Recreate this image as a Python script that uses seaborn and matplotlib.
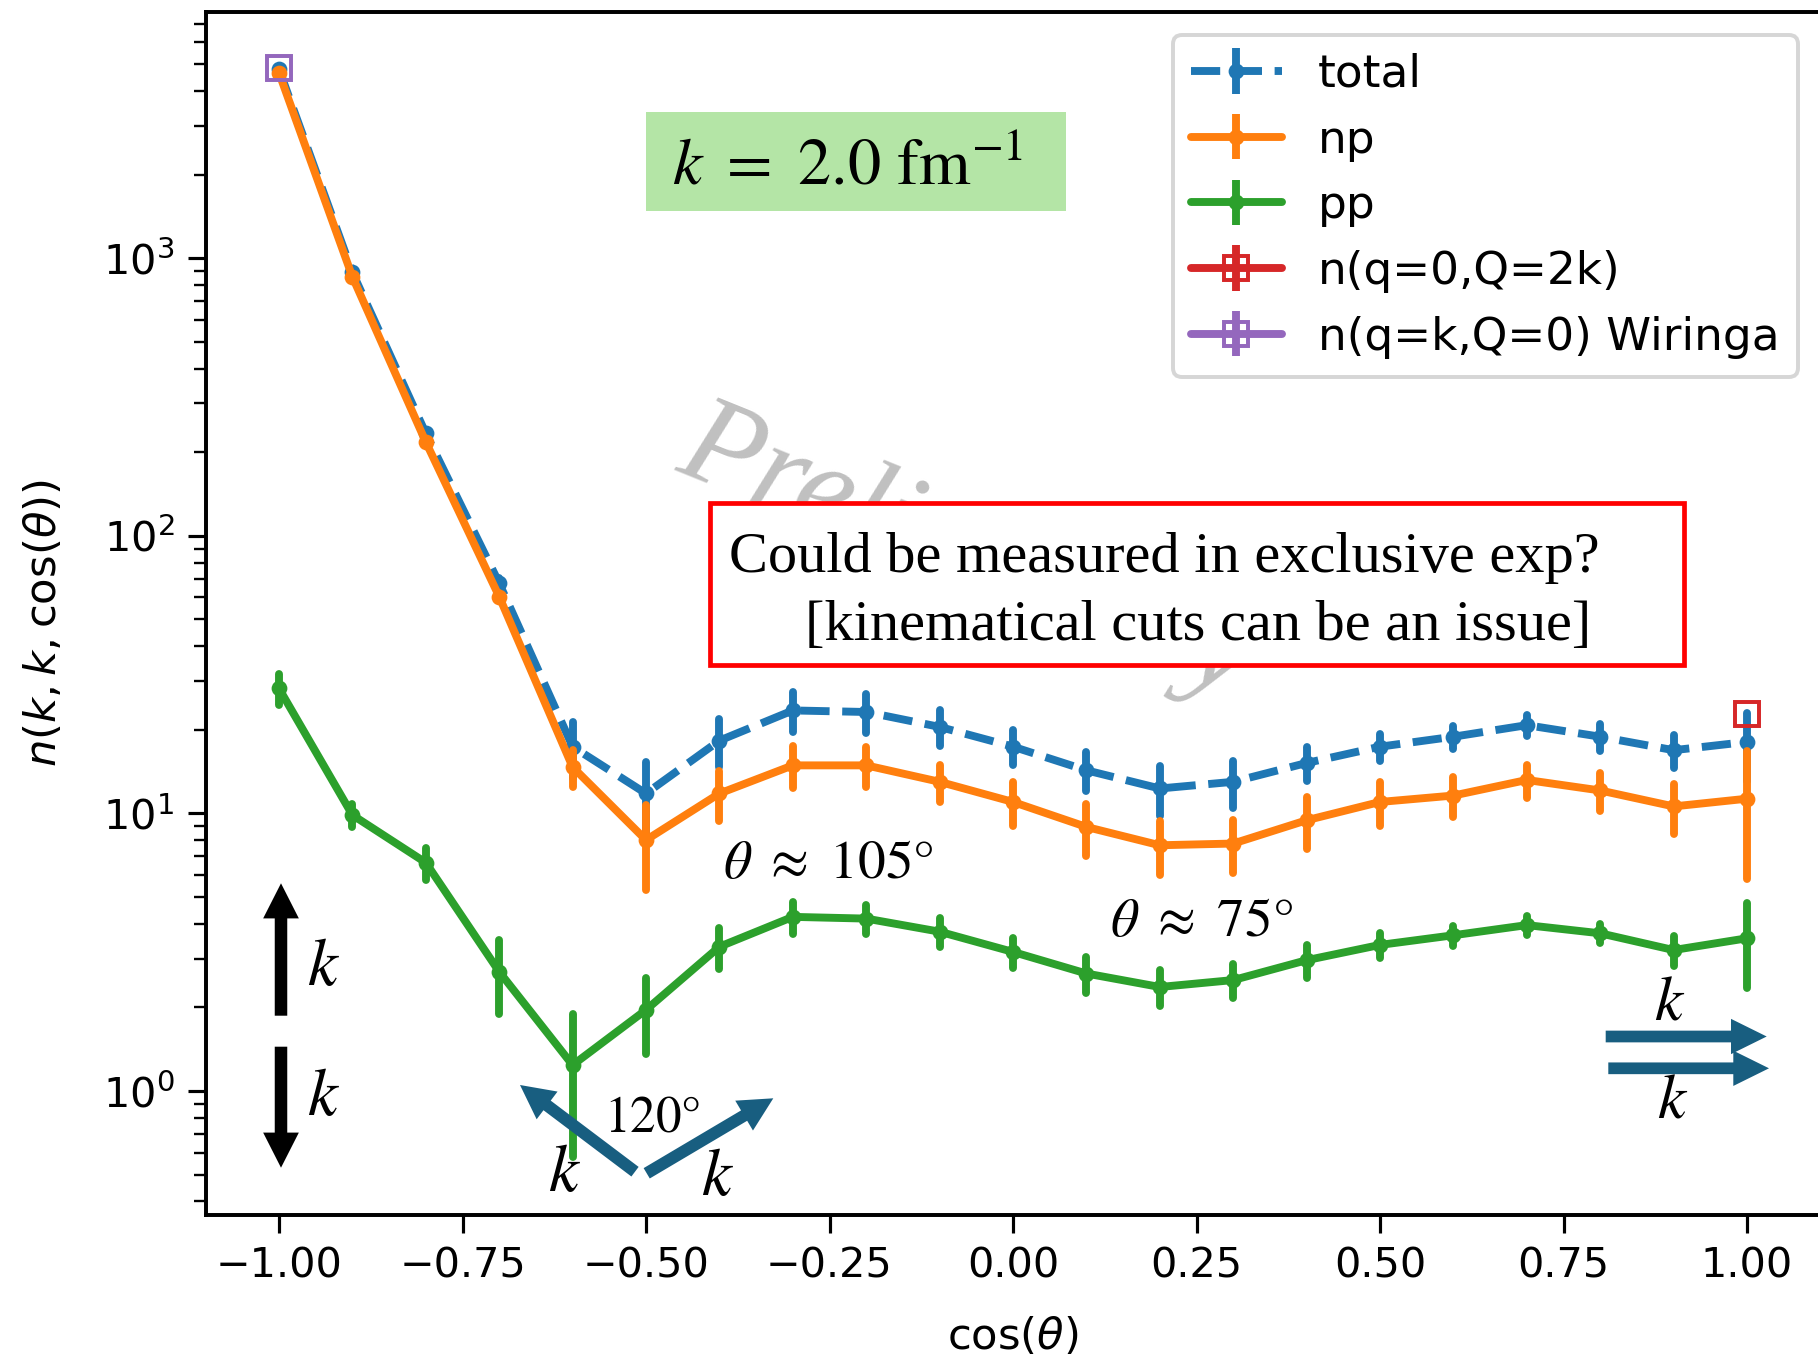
import numpy as np
import pandas as pd
import matplotlib
matplotlib.use("Agg")
import matplotlib.pyplot as plt
import seaborn as sns
from matplotlib.patches import Rectangle, FancyArrowPatch, ArrowStyle
from matplotlib.legend_handler import HandlerTuple
from matplotlib.ticker import FixedLocator, FuncFormatter, LogLocator

# ---------------- data ----------------
cos_theta = [-1.0, -0.9, -0.8, -0.7, -0.6, -0.5, -0.4, -0.3, -0.2, -0.1, 0.0,
             0.1, 0.2, 0.3, 0.4, 0.5, 0.6, 0.7, 0.8, 0.9, 1.0]

total = [4800, 890, 234, 67.5, 17.4, 11.8, 18.3, 23.5, 23.2, 20.5, 17.4,
         14.3, 12.3, 13.0, 15.2, 17.4, 18.9, 20.8, 18.9, 16.9, 18.1]
total_err = [60, 15, 6, 3, 4, 3.5, 3.6, 3.8, 3.7, 3.0, 2.5,
             2.3, 2.5, 2.5, 2.1, 1.9, 1.8, 1.8, 2.1, 2.3, 5.0]

np_vals = [4660, 858, 218, 60.4, 14.7, 8.02, 11.8, 14.9, 14.9, 13.0, 11.0,
           8.94, 7.68, 7.79, 9.45, 11.0, 11.6, 13.2, 12.1, 10.6, 11.3]
np_err = [50, 12, 5, 2, 2.2, 2.7, 2.4, 2.6, 2.4, 2.0, 2.0,
          1.9, 1.7, 1.7, 2.0, 2.0, 1.9, 1.8, 1.9, 2.2, 5.5]

pp_vals = [28.2, 9.87, 6.65, 2.69, 1.24, 1.96, 3.31, 4.24, 4.18, 3.75, 3.17,
           2.65, 2.37, 2.51, 2.96, 3.36, 3.64, 3.96, 3.70, 3.22, 3.55]
pp_err = [3.6, 0.95, 0.88, 0.8, 0.66, 0.6, 0.55, 0.55, 0.5, 0.45, 0.4,
          0.4, 0.35, 0.35, 0.4, 0.35, 0.3, 0.3, 0.3, 0.4, 1.2]

q0_x = [1.0]
q0_vals = [22.8]
q0_err = [0.0]

wir_x = [-1.0]
wir_vals = [4840]
wir_err = [0.0]

labels = ["total", "np", "pp", "n(q=0,Q=2k)", "n(q=k,Q=0) Wiringa"]
x_ticks = [-1.0, -0.75, -0.5, -0.25, 0.0, 0.25, 0.5, 0.75, 1.0]

# ---------------- figure ----------------
W, H = 1818, 1360
DPI = 284
sns.set_style("ticks", {"axes.edgecolor": "black", "xtick.color": "black",
                        "ytick.color": "black", "axes.labelcolor": "black",
                        "text.color": "black", "axes.linewidth": 1.0})
plt.rcParams["font.family"] = ["DejaVu Sans"]
plt.rcParams["mathtext.fontset"] = "dejavusans"

fig = plt.figure(figsize=(W / DPI, H / DPI), dpi=DPI)
ax = fig.add_axes([205.6 / W, 1 - 1215 / H, 1614.8 / W, 1203 / H])

pal = sns.color_palette("tab10")


def long_frame(xs, vals, errs):
    xs = np.asarray(xs, float)
    v = np.asarray(vals, float)
    e = np.asarray(errs, float)
    return pd.DataFrame({"cos_theta": np.concatenate([xs, xs]),
                         "n": np.concatenate([v - e, v + e])})


series = [
    (cos_theta, total, total_err, pal[0], "--", "o", 4.0, None),
    (cos_theta, np_vals, np_err, pal[1], "-", "o", 4.0, None),
    (cos_theta, pp_vals, pp_err, pal[2], "-", "o", 4.0, None),
    (q0_x, q0_vals, q0_err, pal[3], "-", "s", 6.0, "none"),
    (wir_x, wir_vals, wir_err, pal[4], "-", "s", 6.0, "none"),
]

handles = []
for xs, vals, errs, color, ls, marker, ms, mfc in series:
    df = long_frame(xs, vals, errs)
    n_before = len(ax.lines)
    kw = dict(marker=marker, markersize=ms, markeredgecolor=color,
              markeredgewidth=1.0 if mfc == "none" else 0.0)
    if mfc is not None:
        kw["markerfacecolor"] = mfc
    sns.lineplot(data=df, x="cos_theta", y="n", estimator="mean",
                 errorbar=("pi", 100), err_style="bars", color=color,
                 linestyle=ls, linewidth=2.0, err_kws=dict(elinewidth=2.0),
                 legend=False, ax=ax, **kw)
    line = ax.lines[n_before]
    cont = ax.containers[-1]
    handles.append((line, cont))

ax.set_yscale("log")
ax.set_xlim(-1.1, 1.1)
ax.set_ylim(0.3575, 7716)

ax.xaxis.set_major_locator(FixedLocator(x_ticks))
ax.xaxis.set_major_formatter(FuncFormatter(lambda v, p: f"{v:.2f}".replace("-", "\u2212")))
ax.yaxis.set_major_locator(LogLocator(base=10))
ax.yaxis.set_minor_locator(LogLocator(base=10, subs=np.arange(2, 10)))
ax.tick_params(which="major", length=4.5, width=0.8, labelsize=10.5, direction="out")
ax.tick_params(which="minor", length=3.0, width=0.6, direction="out")
for s in ax.spines.values():
    s.set_visible(True)
    s.set_linewidth(1.0)

ax.set_xlabel(r"$\cos(\theta)$", fontsize=11)
ax.set_ylabel(r"$n(k,k,\cos(\theta))$", fontsize=11)
ax.xaxis.set_label_coords(0.5, -0.084)
ax.yaxis.set_label_coords(-0.087, 0.492)

leg = ax.legend(handles, labels, loc="upper right", fontsize=11.5,
                handler_map={tuple: HandlerTuple(ndivide=1)},
                handlelength=2.0, framealpha=0.8, edgecolor="0.8", fancybox=True)
leg.set_zorder(10)


# ---------------- annotations (figure pixel coords, origin top-left) -------
def P(x, y):
    return (x / W, 1 - y / H)


# green box with k value
fig.add_artist(Rectangle(P(646, 211), (1066 - 646) / W, (211 - 112) / H,
                         transform=fig.transFigure, fc="#b4e5a6", ec="none", zorder=2))
fig.text(*P(848, 184), r"$k\ =\ 2.0\ \mathrm{fm}^{-1}$", ha="center", va="baseline",
         fontsize=16.8, math_fontfamily="stix", zorder=3)

# watermark
fig.text(*P(674, 470), "Preliminary", rotation=-22, rotation_mode="anchor",
         ha="left", va="baseline", fontsize=32, color="#c0c0c0",
         family="Liberation Serif", style="italic", zorder=1)

# red box
fig.add_artist(Rectangle(P(709.6, 665), (1683.5 - 709.6) / W, (665 - 503.3) / H,
                         transform=fig.transFigure, fc="white", ec="#ff0000",
                         lw=1.2, zorder=2))
fig.text(*P(729, 571.7), "Could be measured in exclusive exp?", ha="left",
         va="baseline", fontsize=14.8, family="Liberation Serif", zorder=3)
fig.text(*P(805, 640), "[kinematical cuts can be an issue]", ha="left",
         va="baseline", fontsize=14.8, family="Liberation Serif", zorder=3)

# theta labels
fig.text(*P(828, 878), r"$\theta\ \approx\ 105°$", ha="center", va="baseline",
         fontsize=14, math_fontfamily="stix", zorder=3)
fig.text(*P(1202, 936), r"$\theta\ \approx\ 75°$", ha="center", va="baseline",
         fontsize=14, math_fontfamily="stix", zorder=3)


def arrow(p0, p1, color, hl, hw, tw):
    a = FancyArrowPatch(posA=P(*p0), posB=P(*p1), transform=fig.transFigure,
                        arrowstyle=ArrowStyle.Simple(head_length=hl, head_width=hw,
                                                     tail_width=tw),
                        mutation_scale=1, shrinkA=0, shrinkB=0,
                        fc=color, ec="none", lw=0, zorder=3)
    fig.add_artist(a)


# black back-to-back arrows
arrow((281, 1015.7), (281, 883.3), "black", 8.9, 9.05, 3.17)
arrow((281, 1046.7), (281, 1167.7), "black", 8.9, 9.05, 3.17)
fig.text(*P(323, 966), r"$k$", ha="center", va="center", fontsize=17,
         math_fontfamily="stix", zorder=3)
fig.text(*P(323, 1096), r"$k$", ha="center", va="center", fontsize=17,
         math_fontfamily="stix", zorder=3)

# 120 degree arrows
blue = "#185e80"
arrow((635, 1171.7), (520, 1085), blue, 8.6, 8.8, 3.05)
arrow((646.7, 1173.3), (773.3, 1098.3), blue, 8.6, 8.8, 3.05)
fig.text(*P(652, 1118), r"$120°$", ha="center", va="center", fontsize=13,
         math_fontfamily="stix", zorder=3)
fig.text(*P(564, 1172), r"$k$", ha="center", va="center", fontsize=17,
         math_fontfamily="stix", zorder=3)
fig.text(*P(717.5, 1176), r"$k$", ha="center", va="center", fontsize=17,
         math_fontfamily="stix", zorder=3)

# parallel arrows
arrow((1605.7, 1036.5), (1766.7, 1036.5), blue, 9.05, 8.95, 2.97)
arrow((1608.3, 1068.3), (1769, 1068.3), blue, 9.05, 8.95, 2.97)
fig.text(*P(1670, 1003), r"$k$", ha="center", va="center", fontsize=16,
         math_fontfamily="stix", zorder=3)
fig.text(*P(1673, 1100), r"$k$", ha="center", va="center", fontsize=16,
         math_fontfamily="stix", zorder=3)

fig.savefig("out.png", dpi=DPI)
